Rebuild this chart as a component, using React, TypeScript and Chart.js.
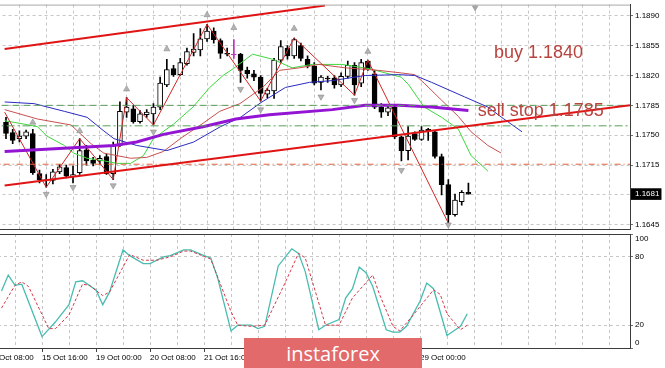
import React, { useEffect, useRef } from "react";
import { Chart, registerables } from "chart.js";

Chart.register(...registerables);

// ---------- data (H4 bars, index 0 = 14 Oct 16:00) ----------
const OPENS = [
  1.1765, 1.1753, 1.1746, 1.1749, 1.1752, 1.1705, 1.1697, 1.1697, 1.1707, 1.1712,
  1.1702, 1.1706, 1.1733, 1.1721, 1.172, 1.1725, 1.1705, 1.1738, 1.1777, 1.1781,
  1.1766, 1.1774, 1.1775, 1.1783, 1.1809, 1.1828, 1.1821, 1.1834, 1.1847, 1.185,
  1.1863, 1.1872, 1.1861, 1.1846, 1.1845, 1.1845, 1.1826, 1.1822, 1.1818, 1.1798,
  1.1802, 1.1838, 1.1852, 1.1843, 1.1855, 1.1839, 1.1831, 1.1812, 1.1817, 1.1817,
  1.1809, 1.1819, 1.1832, 1.1811, 1.1837, 1.1822, 1.1783, 1.1777, 1.1783, 1.1748,
  1.1732, 1.1752, 1.1745, 1.1757, 1.1754, 1.1725, 1.1692, 1.1657, 1.1672, 1.1683,
];
const HIGHS = [
  1.1771, 1.1757, 1.1755, 1.1756, 1.1757, 1.1709, 1.1704, 1.171, 1.1716, 1.1715,
  1.1714, 1.1746, 1.1738, 1.1724, 1.1726, 1.1728, 1.1742, 1.1789, 1.1794, 1.1785,
  1.1779, 1.178, 1.1787, 1.1818, 1.1839, 1.1832, 1.184, 1.1852, 1.1869, 1.1875,
  1.188, 1.1876, 1.1863, 1.1852, 1.1862, 1.1846, 1.183, 1.1826, 1.182, 1.1805,
  1.184, 1.1861, 1.1855, 1.1864, 1.1858, 1.1843, 1.1835, 1.182, 1.1819, 1.182,
  1.1823, 1.1837, 1.1835, 1.1839, 1.1838, 1.1826, 1.1787, 1.1785, 1.1785, 1.1749,
  1.176, 1.1754, 1.176, 1.1758, 1.1755, 1.1728, 1.1698, 1.1681, 1.1685, 1.1694,
];
const LOWS = [
  1.1746, 1.174, 1.1742, 1.1746, 1.1704, 1.1694, 1.1689, 1.1693, 1.1705, 1.17,
  1.1694, 1.1704, 1.1715, 1.1714, 1.1716, 1.1704, 1.1698, 1.1737, 1.1771, 1.1764,
  1.1764, 1.1771, 1.1762, 1.178, 1.1807, 1.1819, 1.182, 1.1832, 1.1843, 1.1843,
  1.186, 1.1858, 1.184, 1.1843, 1.184, 1.1812, 1.1817, 1.1814, 1.179, 1.1794,
  1.1793, 1.1835, 1.1839, 1.184, 1.1837, 1.1829, 1.1809, 1.1803, 1.1812, 1.1805,
  1.1807, 1.1817, 1.1797, 1.1807, 1.1826, 1.1781, 1.1771, 1.1773, 1.1746, 1.172,
  1.1721, 1.1744, 1.1744, 1.1744, 1.1723, 1.168, 1.1647, 1.1655, 1.1668, 1.1681,
];
const CLOSES = [
  1.1752, 1.1744, 1.1749, 1.1754, 1.1706, 1.1698, 1.1698, 1.1707, 1.1713, 1.1702,
  1.1704, 1.1732, 1.172, 1.1717, 1.1723, 1.1705, 1.1738, 1.1778, 1.1783, 1.1766,
  1.1775, 1.1777, 1.1783, 1.1811, 1.1827, 1.1821, 1.1835, 1.1848, 1.1851, 1.1863,
  1.1872, 1.1862, 1.1846, 1.1845, 1.1844, 1.1826, 1.1822, 1.1818, 1.1799, 1.1803,
  1.1838, 1.1854, 1.1843, 1.1862, 1.184, 1.1831, 1.1811, 1.1818, 1.1816, 1.1809,
  1.1819, 1.1832, 1.1809, 1.1835, 1.1828, 1.1783, 1.1777, 1.1782, 1.1748, 1.1732,
  1.1749, 1.1745, 1.1756, 1.1755, 1.1725, 1.1692, 1.1657, 1.1674, 1.1683, 1.1681,
];
const MARKED_BAR = 34;

// Alligator (jaw / teeth / lips) and long MA, read as [bar, price]
const JAW = [
  [-0.2, 1.1789], [4.2, 1.1787], [8.7, 1.1778], [12.1, 1.1771], [14.6, 1.1755],
  [16.1, 1.1746], [19.5, 1.1738], [24, 1.1732], [28, 1.1742], [32, 1.176],
  [35, 1.1771], [38, 1.1788], [41.7, 1.1806], [45.3, 1.1812], [48.7, 1.1814],
  [53.6, 1.182], [58.6, 1.1821], [61, 1.182], [63.5, 1.1812], [68.4, 1.1795],
  [71.9, 1.1783], [74.3, 1.1769], [77, 1.1754],
];
const TEETH = [
  [-0.2, 1.178], [4.7, 1.1769], [9.7, 1.1762], [12.7, 1.174], [14.6, 1.1729],
  [18.6, 1.1723], [21, 1.1724], [23.5, 1.1731], [26, 1.1746], [29.4, 1.1764],
  [31.9, 1.1778], [34.9, 1.1787], [38.3, 1.1806], [40.8, 1.1826], [43.8, 1.1829],
  [46.7, 1.1833], [50.6, 1.1829], [55.6, 1.1826], [59, 1.1823], [61, 1.1821],
  [62.4, 1.1811], [65, 1.1791], [67.5, 1.1772], [69.4, 1.1754], [71.9, 1.1738],
  [73.9, 1.1729],
];
const LIPS = [
  [-0.2, 1.1767], [2.7, 1.1763], [4.7, 1.176], [6.1, 1.1749], [8.7, 1.1738],
  [10.1, 1.1729], [12.1, 1.1723], [14.6, 1.172], [16.5, 1.1717], [18.6, 1.1717],
  [20.5, 1.1726], [22, 1.1746], [25, 1.1763], [27.9, 1.1783], [30.4, 1.1806],
  [32.4, 1.182], [33.9, 1.1828], [36.8, 1.1845], [39.8, 1.1839], [42.7, 1.1829],
  [45.7, 1.1833], [50.1, 1.1833], [54.2, 1.1828], [59, 1.1818], [60.1, 1.1809],
  [62.4, 1.1783], [65, 1.1771], [67.5, 1.1757], [69.4, 1.1726], [71.9, 1.1708],
];
const LONG_MA = [
  [-0.2, 1.1731], [16.1, 1.1738], [19.5, 1.1742], [23.5, 1.1751], [29.4, 1.176],
  [34.3, 1.1769], [39.3, 1.1774], [48.7, 1.178], [53.6, 1.1785], [58.6, 1.1785],
  [63.5, 1.1783], [69, 1.1779],
];
const ZIGZAG = [
  [-0.2, 1.1777], [6, 1.1689], [11, 1.1746], [16, 1.1698], [18, 1.1794],
  [22, 1.1762], [30, 1.188], [38, 1.179], [43, 1.1864], [52, 1.1797],
  [54, 1.1838], [66, 1.1647],
];
const FRACTALS_UP = [
  [4, 1.1765], [11, 1.1755], [18, 1.1804], [24, 1.1851], [30, 1.1891],
  [34, 1.1876], [43, 1.1875], [54, 1.1848],
];
const FRACTALS_DOWN = [
  [6, 1.1681], [10, 1.1689], [16, 1.1691], [22, 1.1754], [35, 1.1804],
  [38, 1.178], [47, 1.1795], [52, 1.1791], [59, 1.1709], [66, 1.1645],
];

// drawn objects
const CHANNEL_UPPER = [[-0.2, 1.1851], [47.6, 1.1902]];
const CHANNEL_LOWER = [[-0.2, 1.1691], [93.1, 1.1785]];
const LEVEL_GREEN_DASH = 1.1785;
const LEVEL_GREEN_DASHDOT = 1.1761;
const LEVEL_RED_DASHDOT = 1.1716;
const NOTES = [
  { text: "buy 1.1840", bar: 72.8, price: 1.1841 },
  { text: "sell stop 1.1785", bar: 70.4, price: 1.1773 },
];

// stochastic, read as [bar, value]
const STOCH_K = [
  [0, 50], [1, 64], [2, 55], [3, 56], [6, 10], [8, 23], [10, 38], [11, 58], [12, 59],
  [14, 51], [15, 38], [16, 49], [18, 86], [19, 81], [21, 74], [22, 74], [24, 80],
  [25, 81], [27, 86], [28, 86], [30, 81], [31, 79], [32, 62], [34, 15], [35, 20],
  [37, 20], [38, 17], [39, 19], [41, 72], [43, 87], [44, 83], [45, 67], [47, 16],
  [48, 20], [50, 25], [51, 44], [52, 52], [53, 71], [54, 66], [55, 54], [57, 16],
  [58, 14], [59, 14], [60, 19], [62, 41], [63, 57], [64, 52], [66, 11], [68, 19],
  [69, 30],
];
const STOCH_D = [
  [0, 35], [2, 55], [3, 58], [4, 54], [7, 17], [8, 17], [10, 29], [12, 56], [13, 55],
  [15, 46], [16, 49], [19, 82], [21, 77], [23, 77], [25, 80], [27, 85], [28, 85],
  [31, 78], [34, 32], [35, 20], [37, 19], [39, 20], [42, 57], [44, 83], [45, 79],
  [48, 20], [50, 20], [52, 44], [55, 64], [56, 47], [58, 19], [59, 15], [61, 29],
  [64, 51], [65, 47], [66, 30], [68, 16], [69, 20],
];

// axes
const PRICE_TICKS = [1.189, 1.1855, 1.182, 1.1785, 1.175, 1.1715, 1.1681, 1.1645];
const STOCH_TICKS = [0, 20, 80, 100];
const GRID_BARS = [-2, 2, 6, 10, 14, 18, 22, 26, 30, 34, 38, 42, 46, 50, 54, 58, 62, 66, 70, 74, 78, 82, 86, 90];
const LABEL_BARS = [-2, 6, 14, 22, 30, 38, 46, 54, 62];
const LABEL_TEXTS = [
  "14 Oct 08:00", "15 Oct 16:00", "19 Oct 00:00", "20 Oct 08:00", "21 Oct 16:00",
  "23 Oct 00:00", "26 Oct 08:00", "27 Oct 16:00", "29 Oct 00:00",
];

// ---------- layout / style ----------
const X_MIN = -2.2963;
const X_MAX = 93.111;
const Y_MIN = 1.16396;
const Y_MAX = 1.19031;
const FONT = "'Liberation Sans', Arial, sans-serif";
const GRID_COLOR = "#c6c6c6";
const FRAME_COLOR = "#3c3c3c";
const LAST_PRICE = CLOSES[CLOSES.length - 1];

const pts = (pairs: number[][]) => pairs.map(([x, y]) => ({ x, y }));

function lineDs(pairs: number[][], color: string, width: number, order: number, dash: number[] = []) {
  return {
    type: "line",
    data: pts(pairs),
    borderColor: color,
    borderWidth: width,
    borderDash: dash,
    pointRadius: 0,
    tension: 0,
    fill: false,
    order,
  };
}

function fixBox(size: number, horizontal: boolean) {
  return (s: any) => {
    if (horizontal) s.height = size;
    else s.width = size;
    s.paddingLeft = 0;
    s.paddingRight = 0;
    s.paddingTop = 0;
    s.paddingBottom = 0;
  };
}

const setTicks = (values: number[]) => (s: any) => {
  s.ticks = values.map((v) => ({ value: v }));
};

const labelFor = (v: number) => {
  const i = LABEL_BARS.indexOf(v);
  return i >= 0 ? LABEL_TEXTS[i] : "";
};

const mainPlugin = {
  id: "mainDecor",
  afterDatasetsDraw(chart: any) {
    const { ctx, chartArea, scales } = chart;
    const x = scales.x;
    const y = scales.y;
    ctx.save();
    // top frame
    ctx.strokeStyle = "#a8a8a8";
    ctx.lineWidth = 1;
    ctx.beginPath();
    ctx.moveTo(chartArea.left, chartArea.top + 0.5);
    ctx.lineTo(chartArea.right, chartArea.top + 0.5);
    ctx.stroke();
    // chart shift marker
    const px = x.getPixelForValue(CLOSES.length);
    ctx.fillStyle = "#a4a4a4";
    ctx.beginPath();
    ctx.moveTo(px - 3.5, chartArea.top + 1);
    ctx.lineTo(px + 3.5, chartArea.top + 1);
    ctx.lineTo(px, chartArea.top + 7);
    ctx.closePath();
    ctx.fill();
    // notes
    ctx.font = "18px " + FONT;
    ctx.fillStyle = "#b8433f";
    ctx.textAlign = "left";
    ctx.textBaseline = "alphabetic";
    NOTES.forEach((n) => ctx.fillText(n.text, x.getPixelForValue(n.bar), y.getPixelForValue(n.price)));
    ctx.restore();
  },
};

const stochPlugin = {
  id: "stochDecor",
  beforeDraw(chart: any) {
    try {
      const items = chart.scales.y.getLabelItems(chart.chartArea);
      items.forEach((it: any) => {
        if (it.label === "100") it.options.translation[1] += 5;
        if (it.label === "0") it.options.translation[1] -= 5;
      });
    } catch (e) {
      /* ignore */
    }
  },
  afterDraw(chart: any) {
    const { ctx, chartArea } = chart;
    ctx.save();
    ctx.strokeStyle = FRAME_COLOR;
    ctx.lineWidth = 1;
    ctx.beginPath();
    ctx.moveTo(chartArea.left, chartArea.top + 0.5);
    ctx.lineTo(chartArea.right, chartArea.top + 0.5);
    ctx.stroke();
    ctx.restore();
  },
};

function mainConfig(): any {
  const bodyColors = OPENS.map((o, i) =>
    i === MARKED_BAR ? "#c030c0" : CLOSES[i] >= o ? "#ffffff" : "#000000"
  );
  const bodyBorders = OPENS.map((_, i) => (i === MARKED_BAR ? "#c030c0" : "#000000"));
  const wickColors = OPENS.map((_, i) => (i === MARKED_BAR ? "#c030c0" : "#000000"));
  return {
    type: "bar",
    data: {
      datasets: [
        {
          type: "line",
          data: pts(FRACTALS_UP),
          showLine: false,
          pointStyle: "triangle",
          pointRadius: 3.5,
          pointRotation: 0,
          pointBackgroundColor: "#b4b4b4",
          pointBorderColor: "#8c8c8c",
          pointBorderWidth: 0.6,
          order: 0,
        },
        {
          type: "line",
          data: pts(FRACTALS_DOWN),
          showLine: false,
          pointStyle: "triangle",
          pointRadius: 3.5,
          pointRotation: 180,
          pointBackgroundColor: "#b4b4b4",
          pointBorderColor: "#8c8c8c",
          pointBorderWidth: 0.6,
          order: 0,
        },
        lineDs(CHANNEL_UPPER, "#e01414", 2, 1),
        lineDs(CHANNEL_LOWER, "#e01414", 2, 1),
        lineDs([[X_MIN, LEVEL_GREEN_DASH], [X_MAX, LEVEL_GREEN_DASH]], "#5a9e5a", 1, 2, [7, 4]),
        lineDs([[X_MIN, LEVEL_GREEN_DASHDOT], [X_MAX, LEVEL_GREEN_DASHDOT]], "#5a9e5a", 1, 2, [8, 3, 2, 3]),
        lineDs([[X_MIN, LEVEL_RED_DASHDOT], [X_MAX, LEVEL_RED_DASHDOT]], "#e2603c", 1, 2, [6, 3, 1, 3]),
        lineDs(LONG_MA, "#9414d4", 3, 3),
        lineDs(ZIGZAG, "#d02424", 1, 4),
        lineDs(JAW, "#2a2ac0", 1, 5),
        lineDs(TEETH, "#c85050", 1, 5),
        lineDs(LIPS, "#3cd83c", 1, 5),
        {
          type: "bar",
          data: OPENS.map((o, i) => ({ x: i, y: [o, CLOSES[i]] })),
          backgroundColor: bodyColors,
          borderColor: bodyBorders,
          borderWidth: 1,
          borderSkipped: false,
          barThickness: 5,
          grouped: false,
          order: 9,
        },
        {
          type: "bar",
          data: HIGHS.map((h, i) => ({ x: i, y: [LOWS[i], h] })),
          backgroundColor: wickColors,
          borderWidth: 0,
          barThickness: 1,
          grouped: false,
          order: 10,
        },
      ],
    },
    options: {
      responsive: false,
      maintainAspectRatio: false,
      animation: false,
      devicePixelRatio: 1,
      layout: { padding: { top: 2, left: 0, right: 0, bottom: 0 } },
      plugins: { legend: { display: false }, tooltip: { enabled: false } },
      scales: {
        x: {
          type: "linear",
          min: X_MIN,
          max: X_MAX,
          offset: false,
          afterBuildTicks: setTicks(GRID_BARS),
          afterFit: fixBox(1, true),
          ticks: { display: false, autoSkip: false },
          grid: { color: GRID_COLOR, drawTicks: false, offset: false },
          border: { display: true, color: FRAME_COLOR, dash: [3, 3] },
        },
        y: {
          type: "linear",
          position: "right",
          min: Y_MIN,
          max: Y_MAX,
          beginAtZero: false,
          afterBuildTicks: setTicks(PRICE_TICKS),
          afterFit: fixBox(35, false),
          ticks: {
            autoSkip: false,
            padding: 2,
            font: { family: FONT, size: 8 },
            color: (c: any) => (c.tick && c.tick.value === LAST_PRICE ? "#ffffff" : "#000000"),
            showLabelBackdrop: (c: any) => !!(c.tick && c.tick.value === LAST_PRICE),
            backdropColor: "#000000",
            backdropPadding: { left: 4, right: 2, top: 1, bottom: 1 },
            callback: (v: any) => Number(v).toFixed(4),
          },
          grid: { color: GRID_COLOR, tickLength: 3, tickColor: "#707070" },
          border: { display: true, color: FRAME_COLOR, dash: [3, 3] },
        },
      },
    },
    plugins: [mainPlugin],
  };
}

function stochConfig(): any {
  return {
    type: "line",
    data: {
      datasets: [
        {
          data: pts(STOCH_K),
          borderColor: "#48bcb0",
          borderWidth: 1.3,
          pointRadius: 0,
          tension: 0,
          order: 1,
        },
        {
          data: pts(STOCH_D),
          borderColor: "#d43a4a",
          borderWidth: 1,
          borderDash: [3, 2],
          pointRadius: 0,
          tension: 0,
          order: 0,
        },
      ],
    },
    options: {
      responsive: false,
      maintainAspectRatio: false,
      animation: false,
      devicePixelRatio: 1,
      layout: { padding: { top: 1, left: 0, right: 0, bottom: 0 } },
      plugins: { legend: { display: false }, tooltip: { enabled: false } },
      scales: {
        x: {
          type: "linear",
          min: X_MIN,
          max: X_MAX,
          offset: false,
          afterBuildTicks: setTicks(GRID_BARS),
          afterFit: fixBox(20, true),
          ticks: {
            autoSkip: false,
            maxRotation: 0,
            align: "start",
            padding: 1,
            font: { family: FONT, size: 8 },
            color: "#000000",
            callback: (v: any) => labelFor(Number(v)),
          },
          grid: {
            color: GRID_COLOR,
            offset: false,
            tickLength: 4,
            tickColor: (c: any) => (c.tick && labelFor(c.tick.value) ? "#404040" : "rgba(0,0,0,0)"),
          },
          border: { display: true, color: FRAME_COLOR, dash: [3, 3] },
        },
        y: {
          type: "linear",
          position: "right",
          min: 0,
          max: 100,
          afterBuildTicks: setTicks(STOCH_TICKS),
          afterFit: fixBox(35, false),
          ticks: {
            autoSkip: false,
            padding: 2,
            font: { family: FONT, size: 8 },
            color: "#000000",
          },
          grid: {
            color: (c: any) =>
              c.tick && (c.tick.value === 20 || c.tick.value === 80) ? GRID_COLOR : "rgba(0,0,0,0)",
            tickLength: 3,
            tickColor: "#707070",
          },
          border: { display: true, color: FRAME_COLOR, dash: [3, 3] },
        },
      },
    },
    plugins: [stochPlugin],
  };
}

export default function App() {
  const mainRef = useRef<HTMLCanvasElement>(null);
  const stochRef = useRef<HTMLCanvasElement>(null);

  useEffect(() => {
    const main = new Chart(mainRef.current as HTMLCanvasElement, mainConfig());
    const stoch = new Chart(stochRef.current as HTMLCanvasElement, stochConfig());
    return () => {
      main.destroy();
      stoch.destroy();
    };
  }, []);

  return (
    <div
      style={{
        position: "fixed",
        left: 0,
        top: 0,
        width: 665,
        height: 368,
        overflow: "hidden",
        background: "#ffffff",
      }}
    >
      <canvas
        ref={mainRef}
        width={679}
        height={234}
        style={{ position: "absolute", left: -14, top: 0, width: 679, height: 234 }}
      />
      <canvas
        ref={stochRef}
        width={679}
        height={135}
        style={{ position: "absolute", left: -14, top: 233, width: 679, height: 135 }}
      />
      <div
        style={{
          position: "absolute",
          left: 244,
          top: 338,
          width: 178,
          height: 30,
          background: "#e26a6a",
          color: "#ffffff",
          font: "20px 'Open Sans', sans-serif",
          display: "flex",
          alignItems: "center",
          justifyContent: "center",
        }}
      >
        instaforex
      </div>
    </div>
  );
}
